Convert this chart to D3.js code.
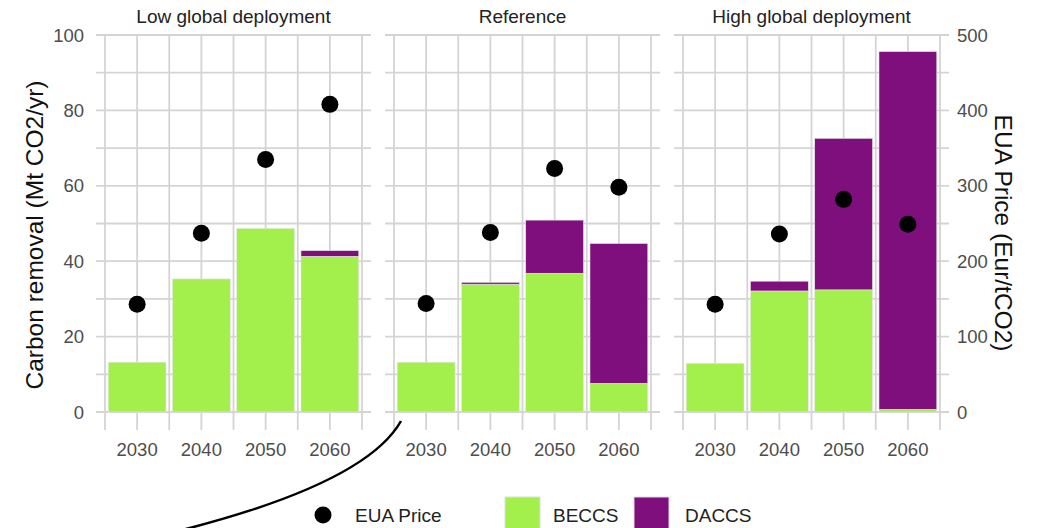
<!DOCTYPE html>
<html><head><meta charset="utf-8">
<script src="https://cdn.jsdelivr.net/npm/d3@7"></script>
<style>body{margin:0;background:#fff}svg{display:block}text{font-family:"Liberation Sans",Arial,sans-serif}</style>
</head><body><svg id="c" width="1037" height="528"></svg>
<script>
const scenarios = ["Low global deployment", "Reference", "High global deployment"];
const years = ["2030", "2040", "2050", "2060"];
const beccs = [
  [13.2, 35.3, 48.7, 41.3],
  [13.2, 33.9, 36.8, 7.6],
  [12.9, 32.1, 32.4, 0.7]
];
const daccs = [
  [0, 0, 0, 1.5],
  [0, 0.5, 14.1, 37.1],
  [0, 2.6, 40.2, 94.9]
];
const price = [
  [143, 237, 335, 408],
  [144, 238, 323, 298],
  [143, 236, 282, 249]
];
const leftTicks = [0, 20, 40, 60, 80, 100];
const rightTicks = [0, 100, 200, 300, 400, 500];
const gridVals = d3.range(0, 101, 10);

(function () {
const svg = d3.select("#c");
const green = "#a3ef4b", purple = "#800f7e", grid = "#d4d4d4", tickCol = "#4d4d4d";
const plotTop = 35, plotBottom = 412;
const panelW = 257, gap = 32, left0 = 105;
const y = d3.scaleLinear().domain([0, 100]).range([plotBottom, plotTop]);
const y2 = d3.scaleLinear().domain([0, 500]).range([plotBottom, plotTop]);

scenarios.forEach((s, i) => {
  const x0 = left0 + i * (panelW + gap);
  const x = d3.scaleBand().domain(years).range([x0, x0 + panelW]).paddingInner(0.1).paddingOuter(0.05);
  const g = svg.append("g");
  const step = x.step();
  g.selectAll("line.h").data(gridVals).join("line")
    .attr("x1", x0 - 9).attr("x2", x0 + panelW + 9)
    .attr("y1", d => y(d)).attr("y2", d => y(d))
    .attr("stroke", grid).attr("stroke-width", 1.8);
  const vx = [];
  years.forEach((yr) => { vx.push(x(yr) - (step - x.bandwidth()) / 2); vx.push(x(yr) + x.bandwidth() / 2); });
  vx.push(x0 + panelW);
  g.selectAll("line.v").data(vx).join("line")
    .attr("x1", d => d).attr("x2", d => d)
    .attr("y1", plotTop).attr("y2", 430)
    .attr("stroke", grid).attr("stroke-width", 1.8);
  years.forEach((yr, k) => {
    const b = beccs[i][k], dc = daccs[i][k];
    g.append("rect").attr("x", x(yr)).attr("width", x.bandwidth())
      .attr("y", y(b)).attr("height", y(0) - y(b)).attr("fill", green)
      .attr("stroke", "#e6e6e6").attr("stroke-width", 0.6);
    if (dc > 0) {
      g.append("rect").attr("x", x(yr)).attr("width", x.bandwidth())
        .attr("y", y(b + dc)).attr("height", y(b) - y(b + dc)).attr("fill", purple)
        .attr("stroke", "#e6e6e6").attr("stroke-width", 0.6);
    }
  });
  g.selectAll("circle").data(years).join("circle")
    .attr("cx", d => x(d) + x.bandwidth() / 2)
    .attr("cy", (d, k) => y2(price[i][k]))
    .attr("r", 8.5).attr("fill", "#000");
  g.selectAll("text.xl").data(years).join("text")
    .attr("x", d => x(d) + x.bandwidth() / 2).attr("y", 456)
    .attr("text-anchor", "middle").attr("font-size", 18.5).attr("fill", tickCol).text(d => d);
  g.append("text").attr("x", x0 + panelW / 2).attr("y", 23)
    .attr("text-anchor", "middle").attr("font-size", 19).attr("fill", "#222").text(s);
});

svg.selectAll("text.yl").data(leftTicks).join("text")
  .attr("x", 84).attr("y", d => y(d)).attr("dy", "0.36em")
  .attr("text-anchor", "end").attr("font-size", 18.5).attr("fill", tickCol).text(d => d);
svg.selectAll("text.yr").data(rightTicks).join("text")
  .attr("x", 957).attr("y", d => y2(d)).attr("dy", "0.36em")
  .attr("text-anchor", "start").attr("font-size", 18.5).attr("fill", tickCol).text(d => d);

svg.append("text").attr("transform", "translate(43,235) rotate(-90)")
  .attr("text-anchor", "middle").attr("font-size", 24.5).attr("fill", "#111")
  .text("Carbon removal (Mt CO2/yr)");
svg.append("text").attr("transform", "translate(995,233) rotate(90)")
  .attr("text-anchor", "middle").attr("font-size", 24.5).attr("fill", "#111")
  .text("EUA Price (Eur/tCO2)");

svg.append("circle").attr("cx", 323).attr("cy", 515).attr("r", 8.5).attr("fill", "#000");
svg.append("text").attr("x", 355).attr("y", 522).attr("font-size", 19).attr("fill", "#222").text("EUA Price");
svg.append("rect").attr("x", 505).attr("y", 497).attr("width", 35).attr("height", 35).attr("fill", green).attr("stroke", "#ddd");
svg.append("text").attr("x", 553).attr("y", 522).attr("font-size", 19).attr("fill", "#222").text("BECCS");
svg.append("rect").attr("x", 634).attr("y", 497).attr("width", 35).attr("height", 35).attr("fill", purple).attr("stroke", "#ddd");
svg.append("text").attr("x", 685).attr("y", 522).attr("font-size", 19).attr("fill", "#222").text("DACCS");

svg.append("path").attr("d", "M170,533 Q365,485 401,421")
  .attr("fill", "none").attr("stroke", "#000").attr("stroke-width", 2.5);
})();
</script></body></html>
